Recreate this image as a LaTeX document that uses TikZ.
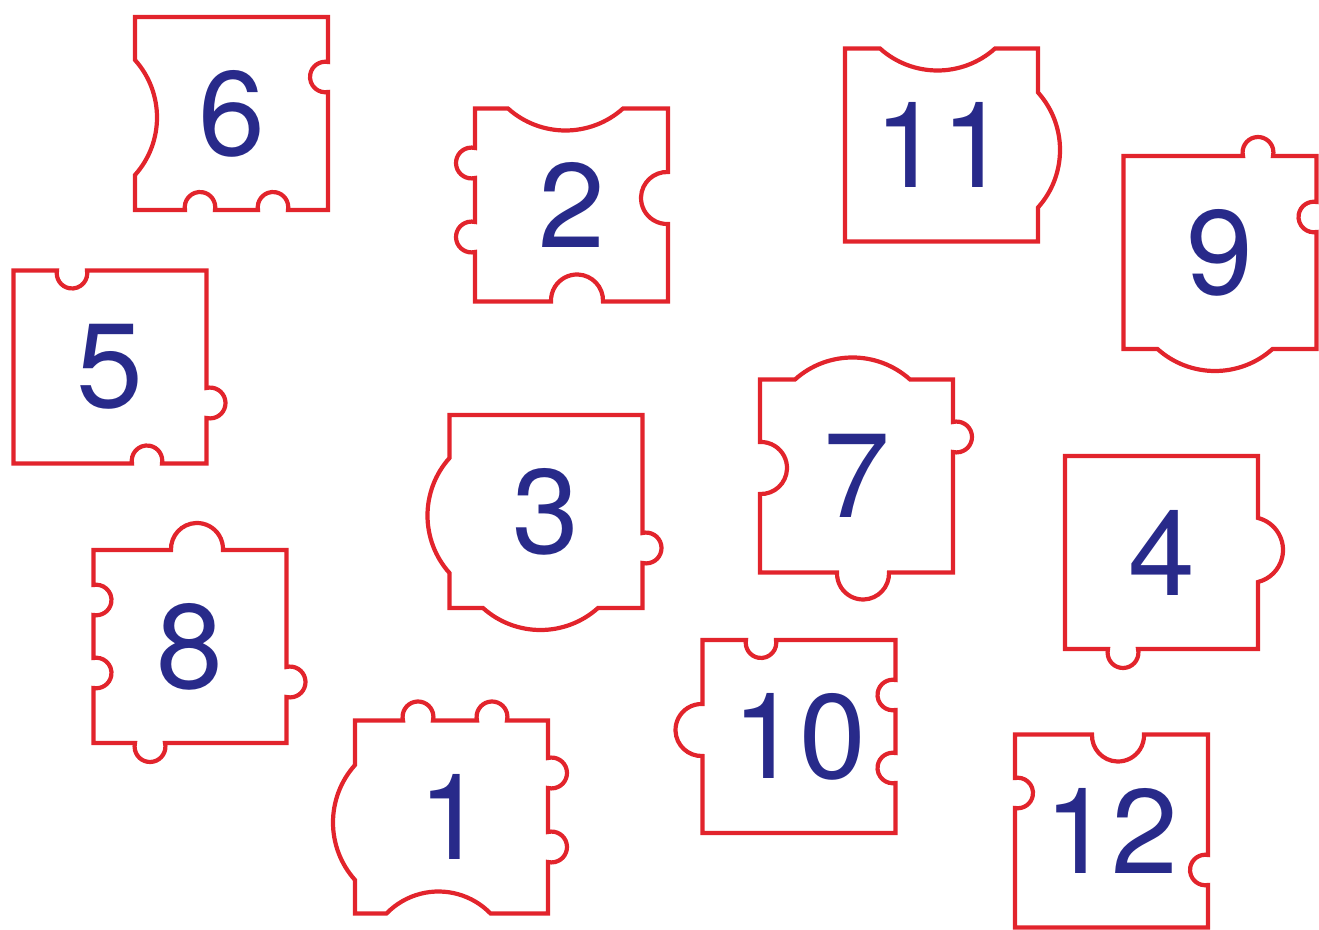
\documentclass[tikz,border=0pt]{standalone}
\usepackage{fontspec}
\setmainfont{TeX Gyre Heros}
\definecolor{piecered}{RGB}{226,36,44}
\definecolor{numblue}{RGB}{40,42,138}

\newcommand\hs{96.5}
% bump on an edge: #1 edge angle, #2 offset along edge, #3 half neck, #4 height, #5 1=out -1=in
\newcommand\pbump[5]{%
  -- ({(#2-#3)*cos(#1)-\hs*sin(#1)},{(#2-#3)*sin(#1)+\hs*cos(#1)})
  arc[start angle={#1+180-(#5)*atan((#3*#3-#4*#4)/(2*#4*#3))},
      end angle={#1+180-(#5)*(180-atan((#3*#3-#4*#4)/(2*#4*#3)))},
      radius={(#3*#3+#4*#4)/(2*#4)*1pt}]}
\newcommand\tabout[2]{\pbump{#1}{#2}{15}{19}{1}}
\newcommand\tabin[2]{\pbump{#1}{#2}{15}{18}{-1}}
\newcommand\knobout[2]{\pbump{#1}{#2}{26}{27}{1}}
\newcommand\knobin[2]{\pbump{#1}{#2}{26}{27}{-1}}
\newcommand\arcout[2]{\pbump{#1}{#2}{57.5}{22}{1}}
\newcommand\arcin[2]{\pbump{#1}{#2}{57.5}{22}{-1}}

\begin{document}
\begin{tikzpicture}[x=1pt, y=1pt,
  piece/.style={draw=piecered, line width=4.2pt, line join=miter},
  num/.style={text=numblue, font=\fontsize{120}{120}\selectfont, inner sep=0pt}]
  \useasboundingbox (0,0) rectangle (1319,929);
  % top row
  \draw[piece, shift={(231.5,815.5)}] (-\hs,\hs) -- (\hs,\hs)
    \tabin{-90}{-36.5} -- (\hs,-\hs)
    \tabin{-180}{-41.5} \tabin{-180}{31.5} -- (-\hs,-\hs)
    \arcin{90}{-4} -- cycle;
  \node[num] (n6) at (231.5,815.5) {6};
  \draw[piece, shift={(571.5,724)}] (-\hs,\hs)
    \arcin{0}{-6} -- (\hs,\hs)
    \knobin{-90}{-7} -- (\hs,-\hs)
    \knobin{-180}{-5.5} -- (-\hs,-\hs)
    \tabout{90}{-32} \tabout{90}{42} -- cycle;
  \node[num] (n2) at (571.5,724) {2};
  \draw[piece, shift={(941.5,784)}] (-\hs,\hs)
    \arcin{0}{-4} -- (\hs,\hs)
    \arcout{-90}{5} -- (\hs,-\hs) -- (-\hs,-\hs) -- cycle;
  \node[num] (n11) at (941.5,784) {11};
  \draw[piece, shift={(1220,676.5)}] (-\hs,\hs)
    \tabout{0}{38} -- (\hs,\hs)
    \tabin{-90}{-35.5} -- (\hs,-\hs)
    \arcout{-180}{5} -- (-\hs,-\hs) -- cycle;
  \node[num] (n9) at (1220,676.5) {9};
  % middle row
  \draw[piece, shift={(110,562)}] (-\hs,\hs)
    \tabin{0}{-38} -- (\hs,\hs)
    \tabout{-90}{36} -- (\hs,-\hs)
    \tabin{-180}{-37} -- (-\hs,-\hs) -- cycle;
  \node[num] (n5) at (110,562) {5};
  \draw[piece, shift={(546,417.5)}] (-\hs,\hs) -- (\hs,\hs)
    \tabout{-90}{36.5} -- (\hs,-\hs)
    \arcout{-180}{5.5} -- (-\hs,-\hs)
    \arcout{90}{-4} -- cycle;
  \node[num] (n3) at (546,417.5) {3};
  \draw[piece, shift={(856.5,453)}] (-\hs,\hs)
    \arcout{0}{-4} -- (\hs,\hs)
    \tabout{-90}{-39} -- (\hs,-\hs)
    \knobout{-180}{-6.5} -- (-\hs,-\hs)
    \knobin{90}{8} -- cycle;
  \node[num] (n7) at (856.5,453) {7};
  \draw[piece, shift={(1161.5,376.5)}] (-\hs,\hs) -- (\hs,\hs)
    \pbump{-90}{-2.5}{32}{25}{1} -- (\hs,-\hs)
    \tabout{-180}{38.5} -- (-\hs,-\hs) -- cycle;
  \node[num] (n4) at (1161.5,376.5) {4};
  % bottom row
  \draw[piece, shift={(190,282.5)}] (-\hs,\hs)
    \knobout{0}{7} -- (\hs,\hs)
    \tabout{-90}{35.5} -- (\hs,-\hs)
    \tabout{-180}{40} -- (-\hs,-\hs)
    \tabin{90}{-26.5} \tabin{90}{46.5} -- cycle;
  \node[num] (n8) at (190,282.5) {8};
  \draw[piece, shift={(451.5,112)}] (-\hs,\hs)
    \tabout{0}{-33.5} \tabout{0}{40.5} -- (\hs,\hs)
    \tabout{-90}{-44} \tabout{-90}{30} -- (\hs,-\hs)
    \pbump{-180}{13}{52}{22}{-1} -- (-\hs,-\hs)
    \arcout{90}{-5.5} -- cycle;
  \node[num] (n1) at (451.5,112) {1};
  \draw[piece, shift={(799,192.5)}] (-\hs,\hs)
    \tabin{0}{-38} -- (\hs,\hs)
    \tabin{-90}{-41.5} \tabin{-90}{31.5} -- (\hs,-\hs) -- (-\hs,-\hs)
    \knobout{90}{6.5} -- cycle;
  \node[num] (n10) at (799,192.5) {10};
  \draw[piece, shift={(1111.5,98)}] (-\hs,\hs)
    \knobin{0}{6.5} -- (\hs,\hs)
    \tabin{-90}{39} -- (\hs,-\hs) -- (-\hs,-\hs)
    \tabin{90}{38} -- cycle;
  \node[num] (n12) at (1111.5,98) {12};
\end{tikzpicture}
\end{document}
